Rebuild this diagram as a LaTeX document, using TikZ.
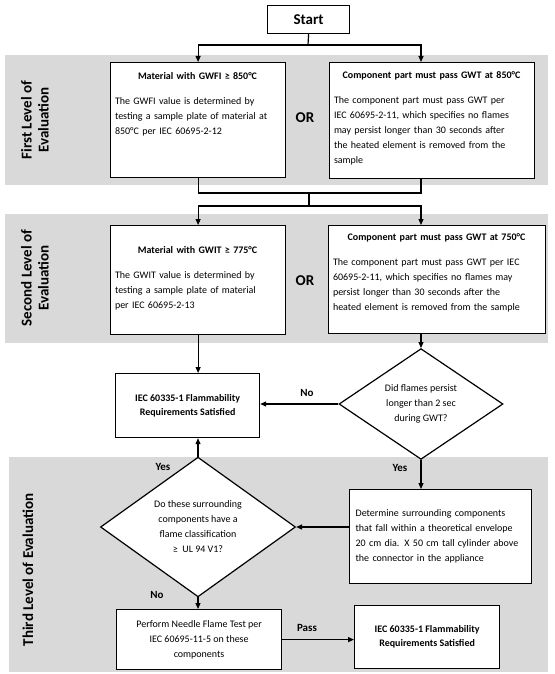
\documentclass[tikz,border=0pt]{standalone}
\usepackage{fontspec}
\setmainfont{Carlito}
\usetikzlibrary{shapes.geometric,arrows.meta}
\definecolor{bandgray}{HTML}{D9D9D9}

\begin{document}
\begin{tikzpicture}[x=1pt,y=-1pt,
  box/.style={draw=black, line width=1.2pt, fill=white, inner sep=0pt, anchor=north west},
  decide/.style={diamond, draw=black, line width=1.2pt, fill=white, inner sep=0pt, align=center, font=\fontsize{10}{15}\selectfont},
  body/.style={inner sep=0pt, align=left, anchor=north, font=\fontsize{10}{15}\selectfont},
  flow/.style={line width=1.2pt, -{Triangle[length=6pt,width=5pt]}},
  tag/.style={inner sep=0pt, font=\fontsize{11}{13}\selectfont\bfseries},
  level/.style={inner sep=0pt, align=center, rotate=90, font=\fontsize{15}{17}\selectfont\bfseries}]
\useasboundingbox (0,0) rectangle (554,674);
% grey bands
\fill [bandgray] (5,55) rectangle (548,185);
\fill [bandgray] (5,214) rectangle (548,343);
\fill [bandgray] (9,457) rectangle (548,672);
\node [level] (lev1) at (35,120) {First Level of\\Evaluation};
\node [level] (lev2) at (35,278) {Second Level of\\Evaluation};
\node [level] (lev3) at (28,570) {Third Level of Evaluation};
% boxes
\node [box, minimum width=82pt, minimum height=28pt, font=\fontsize{15}{18}\selectfont\bfseries] (start) at (267,5) {Start};
\node [box, minimum width=175pt, minimum height=115pt] (gwfi) at (110,62) {};
\node [body, text width=165pt] (gwfi-txt) at (197.5,72) {{\centering\bfseries Material with GWFI ≥ 850°C\par}\vspace{10pt}The GWFI value is determined by\\testing a sample plate of material at\\850°C per IEC 60695-2-12};
\node [box, minimum width=205pt, minimum height=116pt] (gwtA) at (329,62) {};
\node [body, text width=195pt] (gwtA-txt) at (431.5,71) {{\centering\bfseries Component part must pass GWT at 850°C\par}\vspace{10pt}The component part must pass GWT per\\IEC 60695-2-11, which specifies no flames\\may persist longer than 30 seconds after\\the heated element is removed from the\\sample};
\node [tag, font=\fontsize{15}{18}\selectfont\bfseries] (or1) at (305,118) {OR};
\node [box, minimum width=175pt, minimum height=109pt] (gwit) at (110,225) {};
\node [body, text width=165pt] (gwit-txt) at (197.5,246) {{\centering\bfseries Material with GWIT ≥ 775°C\par}\vspace{10pt}The GWIT value is determined by\\testing a sample plate of material\\per IEC 60695-2-13};
\node [box, minimum width=217pt, minimum height=108pt] (gwtB) at (328,225) {};
\node [body, text width=207pt] (gwtB-txt) at (436.5,233) {{\centering\bfseries Component part must pass GWT at 750°C\par}\vspace{10pt}The component part must pass GWT per IEC\\60695-2-11, which specifies no flames may\\persist longer than 30 seconds after the\\heated element is removed from the sample};
\node [tag, font=\fontsize{15}{18}\selectfont\bfseries] (or2) at (305,281) {OR};
\node [box, minimum width=144pt, minimum height=64pt, align=center, font=\fontsize{10}{14}\selectfont\bfseries] (satA) at (115,373) {IEC 60335-1 Flammability\\Requirements Satisfied};
\node [decide, minimum width=164pt, minimum height=90pt] (persist) at (421,404) {Did flames persist\\longer than 2 sec\\during GWT?};
\node [box, minimum width=182pt, minimum height=94pt, align=left, text width=170pt, font=\fontsize{10}{15}\selectfont] (envelope) at (349,489) {Determine surrounding components\\that fall within a theoretical envelope\\20 cm dia. X 50 cm tall cylinder above\\the connector in the appliance};
\node [decide, minimum width=195pt, minimum height=123pt] (classif) at (198,527) {Do these surrounding\\components have a\\flame classification\\≥~ UL 94 V1?};
\node [box, minimum width=165pt, minimum height=60pt, align=center, font=\fontsize{10}{15}\selectfont] (needle) at (116,609) {Perform Needle Flame Test per\\IEC 60695-11-5 on these\\components};
\node [box, minimum width=145pt, minimum height=63pt, align=center, font=\fontsize{10}{14}\selectfont\bfseries] (satB) at (354,605) {IEC 60335-1 Flammability\\Requirements Satisfied};
% connectors
\coordinate (colR) at (421,0);
\coordinate (split) at (308,45);
\coordinate (merge) at (309,193);
\coordinate (fork) at (309,206);
\draw [line width=1.2pt] (start.south) -- (split);
\draw [flow] (split) -| (gwfi.north);
\draw [flow] (split) -| (colR |- gwtA.north);
\draw [line width=1.2pt] (gwfi.south) |- (merge) -| (colR |- gwtA.south);
\draw [line width=1.2pt] (merge) -- (fork);
\draw [flow] (fork) -| (gwit.north);
\draw [flow] (fork) -| (colR |- gwtB.north);
\draw [flow] (gwit.south) -- (gwit.south |- satA.north);
\draw [flow] (colR |- gwtB.south) -- (persist.north);
\draw [flow] (persist.west) -- (persist.west -| satA.east);
\draw [flow] (persist.south) -- (persist.south |- envelope.north);
\draw [flow] (classif.east -| envelope.west) -- (classif.east);
\draw [flow] (classif.north) -- (classif.north |- satA.south);
\draw [flow] (classif.south) -- (classif.south |- needle.north);
\draw [flow] (needle.east) -- (needle.east -| satB.west);
% labels
\node [tag] (no1) at (307,393) {No};
\node [tag] (yes1) at (400,468) {Yes};
\node [tag] (yes2) at (163,467) {Yes};
\node [tag] (no2) at (157,595) {No};
\node [tag] (pass) at (307,628) {Pass};
\end{tikzpicture}
\end{document}
